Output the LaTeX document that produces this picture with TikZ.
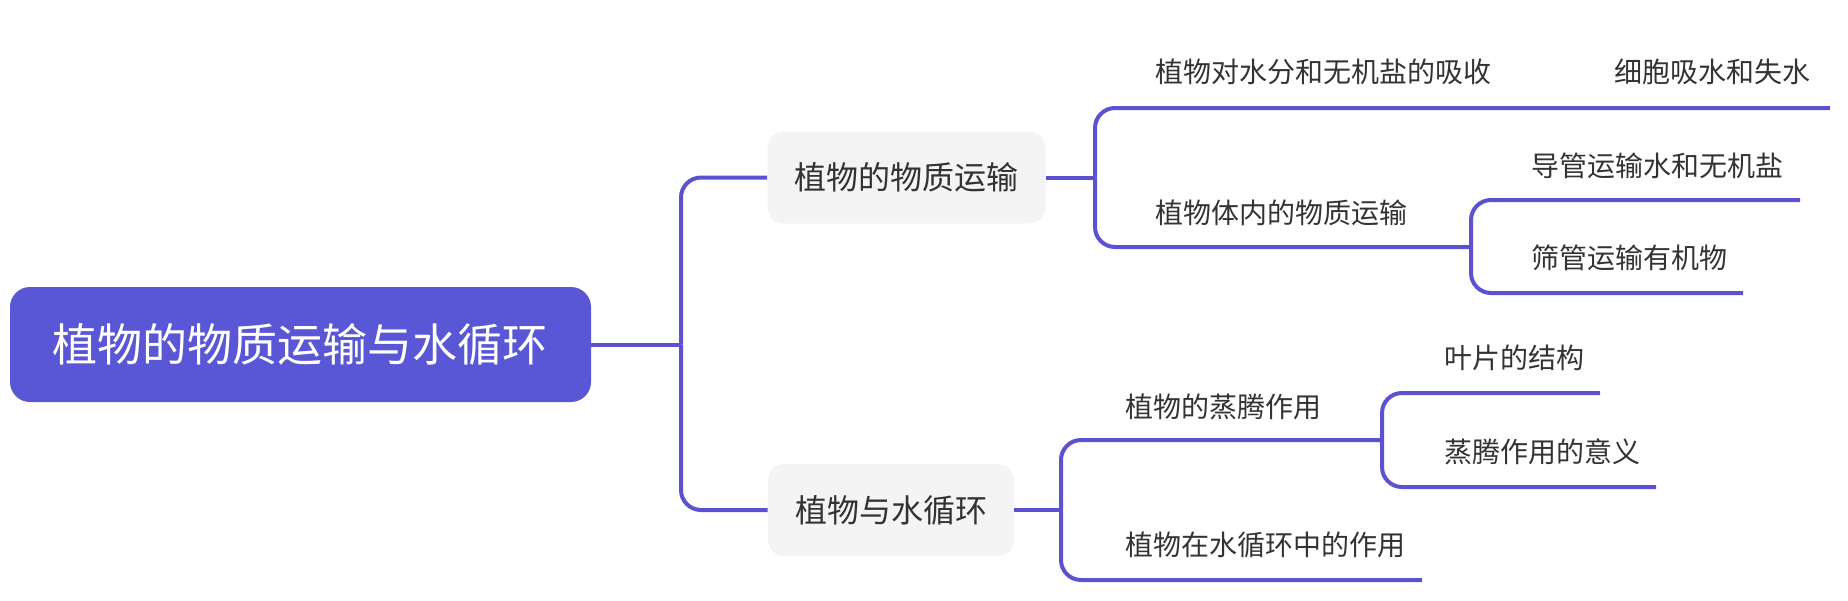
\documentclass[tikz,border=0pt]{standalone}
\usepackage{fontspec}
\newfontfamily\cjk{Noto Sans CJK SC}
\definecolor{rootblue}{HTML}{5A57D6}
\definecolor{linkblue}{HTML}{5B51D1}
\definecolor{topicgray}{HTML}{F4F4F4}
\definecolor{inkgray}{HTML}{333333}
\tikzset{
  rootbox/.style={fill=rootblue, text=white, rounded corners=10pt, inner xsep=21.5pt,
    minimum height=57.5pt, font=\cjk\fontsize{22.5}{26}\selectfont},
  topicbox/.style={fill=topicgray, text=inkgray, rounded corners=8pt, inner xsep=13.5pt,
    minimum height=46pt, font=\cjk\fontsize{16}{19}\selectfont},
  leaf/.style={anchor=west, inner sep=0pt, text=inkgray, font=\cjk\fontsize{14}{17}\selectfont},
  link/.style={draw=linkblue, line width=2pt, rounded corners=10pt}
}
\begin{document}
\begin{tikzpicture}[x=0.5pt,y=-0.5pt]
\useasboundingbox (0,0) rectangle (1848,600);
% main topic and the two branches
\node[rootbox] (root) at (300.5,344.5) {植物的物质运输与水循环};
\node[topicbox] (trans) at (906.5,177.5) {植物的物质运输};
\node[topicbox] (cycle) at (891,510) {植物与水循环};
% leaves
\node[leaf] (absorb) at (1155,72) {植物对水分和无机盐的吸收};
\node[leaf] (cell) at (1614,72) {细胞吸水和失水};
\node[leaf] (inner) at (1155,213) {植物体内的物质运输};
\node[leaf] (vessel) at (1531,166) {导管运输水和无机盐};
\node[leaf] (sieve) at (1531,258) {筛管运输有机物};
\node[leaf] (transp) at (1125,407) {植物的蒸腾作用};
\node[leaf] (leafst) at (1444,358) {叶片的结构};
\node[leaf] (mean) at (1444,452) {蒸腾作用的意义};
\node[leaf] (role) at (1125,545) {植物在水循环中的作用};
% junctions and line ends
\coordinate (j0) at (681,344.5);
\coordinate (j1) at (1095,177.5);
\coordinate (j2) at (1061,510);
\coordinate (j3) at (1471,247);
\coordinate (j4) at (1382,440);
\coordinate (absorbU) at (1510,108);
\coordinate (cellU) at (1830,108);
\coordinate (vesselU) at (1800,200);
\coordinate (sieveU) at (1743,293);
\coordinate (leafstU) at (1600,393);
\coordinate (meanU) at (1656,487);
\coordinate (roleU) at (1422,580);
% connectors
\draw[link] (root.east) -- (j0);
\draw[link] (j0) |- (trans.west);
\draw[link] (j0) |- (cycle.west);
\draw[link] (trans.east) -- (j1);
\draw[link] (j1) |- (absorbU) -- (cellU);
\draw[link] (j1) |- (j3);
\draw[link] (j3) |- (vesselU);
\draw[link] (j3) |- (sieveU);
\draw[link] (cycle.east) -- (j2);
\draw[link] (j2) |- (j4);
\draw[link] (j2) |- (roleU);
\draw[link] (j4) |- (leafstU);
\draw[link] (j4) |- (meanU);
\end{tikzpicture}
\end{document}
